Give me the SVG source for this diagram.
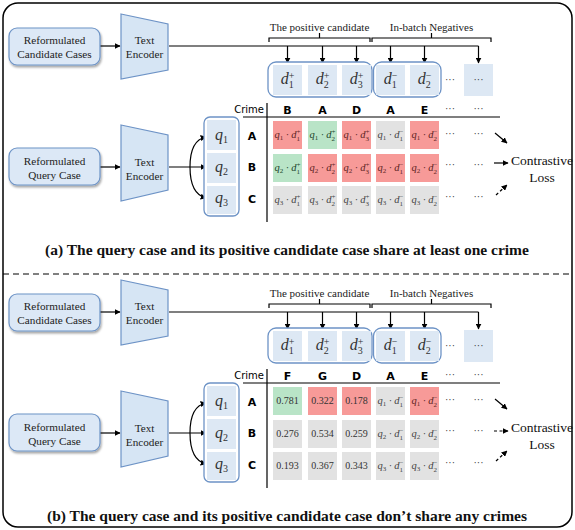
<svg xmlns="http://www.w3.org/2000/svg" width="575" height="530" viewBox="0 0 575 530">
<defs>
<filter id="sh" x="-20%" y="-20%" width="140%" height="150%"><feDropShadow dx="1" dy="2" stdDeviation="1.2" flood-color="#000" flood-opacity="0.35"/></filter>
<marker id="ar" viewBox="0 0 10 10" refX="9" refY="5" markerWidth="5" markerHeight="5" orient="auto-start-reverse"><path d="M0,0 L10,5 L0,10 z" fill="#000"/></marker>
</defs>
<style>
.box{fill:#dce8f6;stroke:#6d93c6;stroke-width:1.2;filter:url(#sh)}
.enc{fill:#d6e5f4;stroke:#6d93c6;stroke-width:1.2}
.grp{fill:#fff;stroke:#6d93c6;stroke-width:1.3}
.cb{fill:#dde8f4}
.r{fill:#f79a98}.g{fill:#b9e4c7}.y{fill:#e2e2e2}
.lbl{font-family:"Liberation Serif",serif;font-size:11.2px;text-anchor:middle;fill:#222}
.br{font-family:"Liberation Serif",serif;font-size:11px;text-anchor:middle;fill:#222}
.m{font-family:"Liberation Serif",serif;font-style:italic;font-size:16px;fill:#333;text-anchor:middle}
.cm{font-family:"Liberation Serif",serif;font-style:italic;font-size:10.5px;text-anchor:middle}
.s{font-style:normal}
.num{font-family:"Liberation Serif",serif;font-size:10px;text-anchor:middle;fill:#333}
.tr{fill:#5c2424}.tg{fill:#21442b}.ty{fill:#444}
.dot{font-family:"Liberation Serif",serif;font-size:10px;text-anchor:middle;fill:#333}
.hd{font-family:"DejaVu Sans",sans-serif;font-size:11px;font-weight:bold;text-anchor:middle;fill:#000}
.cr{font-family:"DejaVu Sans",sans-serif;font-size:10px;text-anchor:end;fill:#000}
.ln{stroke:#000;stroke-width:1.2;fill:none}
.lnd{stroke:#000;stroke-width:1.2;fill:none;stroke-dasharray:3 2.5}
.cl{font-family:"Liberation Serif",serif;font-size:13.5px;text-anchor:middle;fill:#111}
.cap{font-family:"Liberation Serif",serif;font-size:15.5px;font-weight:bold;text-anchor:middle;fill:#111}
</style>
<rect x="3" y="3" width="569" height="524" rx="15" fill="#fff" stroke="#000" stroke-width="1.5"/>
<line x1="3" y1="274" x2="572" y2="274" stroke="#000" stroke-width="1" stroke-dasharray="6 4"/>

<!-- ===== Panel (a) ===== -->
<g id="panel-a">
<g id="connectors-a">
<path class="ln" d="M100,46 H120" marker-end="url(#ar)"/>
<path class="ln" d="M100,167 H120" marker-end="url(#ar)"/>
<path class="ln" d="M169,46 H478.5"/>
<path class="ln" d="M287.5,46 V63" marker-end="url(#ar)"/>
<path class="ln" d="M322.5,46 V63" marker-end="url(#ar)"/>
<path class="ln" d="M356.5,46 V63" marker-end="url(#ar)"/>
<path class="ln" d="M390.5,46 V63" marker-end="url(#ar)"/>
<path class="ln" d="M424.5,46 V63" marker-end="url(#ar)"/>
<path class="ln" d="M478.5,46 V63" marker-end="url(#ar)"/>
<path class="ln" d="M169,167 H206" marker-end="url(#ar)"/>
<path class="ln" d="M206,137 Q190,140 190,167 Q190,194 206,198" marker-start="url(#ar)" marker-end="url(#ar)"/>
<path class="ln" d="M269,42 V38 H370 V42 M319.5,38 V33"/>
<path class="ln" d="M372,42 V38 H491 V42 M431.5,38 V33"/>
<path class="ln" d="M243,117 H500 M267,103 V222"/>
<path class="ln" d="M495,133 L507,143" marker-end="url(#ar)"/>
<path class="ln" d="M494,163 H508" marker-end="url(#ar)"/>
<path class="lnd" d="M496,195 L507,185" marker-end="url(#ar)"/>
</g>
<g id="cand-box-a"><rect class="box" x="9" y="28" width="91" height="37" rx="8"/><text class="lbl" x="54.5" y="44">Reformulated</text><text class="lbl" x="54.5" y="58">Candidate Cases</text></g>
<g id="enc1-a"><path class="enc" d="M121,14 L168,24 L168,70 L121,79 Z"/><text class="lbl" x="144.5" y="44">Text</text><text class="lbl" x="144.5" y="58">Encoder</text></g>
<g id="query-box-a"><rect class="box" x="9" y="148" width="91" height="37" rx="8"/><text class="lbl" x="54.5" y="165">Reformulated</text><text class="lbl" x="54.5" y="179">Query Case</text></g>
<g id="enc2-a"><path class="enc" d="M121,125 L168,135 L168,190 L121,201 Z"/><text class="lbl" x="144.5" y="166">Text</text><text class="lbl" x="144.5" y="180">Encoder</text></g>
<g id="brace-labels-a"><text class="br" x="319.5" y="31">The positive candidate</text><text class="br" x="431.5" y="31">In-batch Negatives</text></g>
<g id="cands-a">
<rect class="grp" x="268" y="62" width="104" height="35" rx="8"/>
<rect class="grp" x="373.5" y="62" width="67.5" height="35" rx="8"/>
<rect class="cb" x="273" y="65" width="29" height="30"/><rect class="cb" x="308" y="65" width="29" height="30"/><rect class="cb" x="342" y="65" width="29" height="30"/>
<rect class="cb" x="376" y="65" width="29" height="30"/><rect class="cb" x="410" y="65" width="29" height="30"/><rect class="cb" x="464" y="64" width="29" height="32"/>
<text class="m" x="287.5" y="84">d<tspan class="s" font-size="10" dy="-5.5">+</tspan><tspan class="s" font-size="10" dx="-5.6" dy="9">1</tspan></text>
<text class="m" x="322.5" y="84">d<tspan class="s" font-size="10" dy="-5.5">+</tspan><tspan class="s" font-size="10" dx="-5.6" dy="9">2</tspan></text>
<text class="m" x="356.5" y="84">d<tspan class="s" font-size="10" dy="-5.5">+</tspan><tspan class="s" font-size="10" dx="-5.6" dy="9">3</tspan></text>
<text class="m" x="390.5" y="84">d<tspan class="s" font-size="10" dy="-5.5">−</tspan><tspan class="s" font-size="10" dx="-5.6" dy="9">1</tspan></text>
<text class="m" x="424.5" y="84">d<tspan class="s" font-size="10" dy="-5.5">−</tspan><tspan class="s" font-size="10" dx="-5.6" dy="9">2</tspan></text>
<text class="dot" x="450" y="83">···</text><text class="dot" x="478.5" y="83">···</text>
</g>
<g id="queries-a">
<rect class="grp" x="204" y="117" width="35" height="99" rx="6"/>
<rect class="cb" x="207" y="120" width="29" height="30"/><rect class="cb" x="207" y="153" width="29" height="30"/><rect class="cb" x="207" y="186" width="29" height="28"/>
<text class="m" x="221.5" y="140">q<tspan class="s" font-size="10" dy="2.5">1</tspan></text>
<text class="m" x="221.5" y="172">q<tspan class="s" font-size="10" dy="2.5">2</tspan></text>
<text class="m" x="221.5" y="203">q<tspan class="s" font-size="10" dy="2.5">3</tspan></text>
</g>
<g id="table-a">
<text class="cr" x="264" y="113">Crime</text>
<text class="hd" x="287.5" y="114">B</text><text class="hd" x="322.5" y="114">A</text><text class="hd" x="356.5" y="114">D</text><text class="hd" x="390.5" y="114">A</text><text class="hd" x="424.5" y="114">E</text>
<text class="dot" x="450" y="112">···</text><text class="dot" x="478.5" y="112">···</text>
<text class="hd" x="252" y="140">A</text><text class="hd" x="252" y="171">B</text><text class="hd" x="252" y="203">C</text>
<rect class="r" x="273" y="121" width="29" height="28"/><rect class="g" x="308" y="121" width="29" height="28"/><rect class="r" x="342" y="121" width="29" height="28"/><rect class="y" x="376" y="121" width="29" height="28"/><rect class="r" x="410" y="121" width="29" height="28"/>
<rect class="g" x="273" y="154" width="29" height="28"/><rect class="r" x="308" y="154" width="29" height="28"/><rect class="r" x="342" y="154" width="29" height="28"/><rect class="r" x="376" y="154" width="29" height="28"/><rect class="r" x="410" y="154" width="29" height="28"/>
<rect class="y" x="273" y="186" width="29" height="28"/><rect class="y" x="308" y="186" width="29" height="28"/><rect class="y" x="342" y="186" width="29" height="28"/><rect class="y" x="376" y="186" width="29" height="28"/><rect class="y" x="410" y="186" width="29" height="28"/>
<text class="cm tr" x="287.5" y="138">q<tspan class="s" font-size="7" dy="2">1</tspan><tspan dy="-2"> · d</tspan><tspan class="s" font-size="7" dy="-4">+</tspan><tspan class="s" font-size="7" dx="-3.9" dy="6.5">1</tspan></text>
<text class="cm tg" x="322.5" y="138">q<tspan class="s" font-size="7" dy="2">1</tspan><tspan dy="-2"> · d</tspan><tspan class="s" font-size="7" dy="-4">+</tspan><tspan class="s" font-size="7" dx="-3.9" dy="6.5">2</tspan></text>
<text class="cm tr" x="356.5" y="138">q<tspan class="s" font-size="7" dy="2">1</tspan><tspan dy="-2"> · d</tspan><tspan class="s" font-size="7" dy="-4">+</tspan><tspan class="s" font-size="7" dx="-3.9" dy="6.5">3</tspan></text>
<text class="cm ty" x="390.5" y="138">q<tspan class="s" font-size="7" dy="2">1</tspan><tspan dy="-2"> · d</tspan><tspan class="s" font-size="7" dy="-4">−</tspan><tspan class="s" font-size="7" dx="-3.9" dy="6.5">1</tspan></text>
<text class="cm tr" x="424.5" y="138">q<tspan class="s" font-size="7" dy="2">1</tspan><tspan dy="-2"> · d</tspan><tspan class="s" font-size="7" dy="-4">−</tspan><tspan class="s" font-size="7" dx="-3.9" dy="6.5">2</tspan></text>
<text class="cm tg" x="287.5" y="171">q<tspan class="s" font-size="7" dy="2">2</tspan><tspan dy="-2"> · d</tspan><tspan class="s" font-size="7" dy="-4">+</tspan><tspan class="s" font-size="7" dx="-3.9" dy="6.5">1</tspan></text>
<text class="cm tr" x="322.5" y="171">q<tspan class="s" font-size="7" dy="2">2</tspan><tspan dy="-2"> · d</tspan><tspan class="s" font-size="7" dy="-4">+</tspan><tspan class="s" font-size="7" dx="-3.9" dy="6.5">2</tspan></text>
<text class="cm tr" x="356.5" y="171">q<tspan class="s" font-size="7" dy="2">2</tspan><tspan dy="-2"> · d</tspan><tspan class="s" font-size="7" dy="-4">+</tspan><tspan class="s" font-size="7" dx="-3.9" dy="6.5">3</tspan></text>
<text class="cm tr" x="390.5" y="171">q<tspan class="s" font-size="7" dy="2">2</tspan><tspan dy="-2"> · d</tspan><tspan class="s" font-size="7" dy="-4">−</tspan><tspan class="s" font-size="7" dx="-3.9" dy="6.5">1</tspan></text>
<text class="cm tr" x="424.5" y="171">q<tspan class="s" font-size="7" dy="2">2</tspan><tspan dy="-2"> · d</tspan><tspan class="s" font-size="7" dy="-4">−</tspan><tspan class="s" font-size="7" dx="-3.9" dy="6.5">2</tspan></text>
<text class="cm ty" x="287.5" y="203">q<tspan class="s" font-size="7" dy="2">3</tspan><tspan dy="-2"> · d</tspan><tspan class="s" font-size="7" dy="-4">+</tspan><tspan class="s" font-size="7" dx="-3.9" dy="6.5">1</tspan></text>
<text class="cm ty" x="322.5" y="203">q<tspan class="s" font-size="7" dy="2">3</tspan><tspan dy="-2"> · d</tspan><tspan class="s" font-size="7" dy="-4">+</tspan><tspan class="s" font-size="7" dx="-3.9" dy="6.5">2</tspan></text>
<text class="cm ty" x="356.5" y="203">q<tspan class="s" font-size="7" dy="2">3</tspan><tspan dy="-2"> · d</tspan><tspan class="s" font-size="7" dy="-4">+</tspan><tspan class="s" font-size="7" dx="-3.9" dy="6.5">3</tspan></text>
<text class="cm ty" x="390.5" y="203">q<tspan class="s" font-size="7" dy="2">3</tspan><tspan dy="-2"> · d</tspan><tspan class="s" font-size="7" dy="-4">−</tspan><tspan class="s" font-size="7" dx="-3.9" dy="6.5">1</tspan></text>
<text class="cm ty" x="424.5" y="203">q<tspan class="s" font-size="7" dy="2">3</tspan><tspan dy="-2"> · d</tspan><tspan class="s" font-size="7" dy="-4">−</tspan><tspan class="s" font-size="7" dx="-3.9" dy="6.5">2</tspan></text>
<text class="dot" x="450" y="137">···</text><text class="dot" x="478.5" y="137">···</text>
<text class="dot" x="450" y="168">···</text><text class="dot" x="478.5" y="168">···</text>
<text class="dot" x="450" y="200">···</text><text class="dot" x="478.5" y="200">···</text>
</g>
<g id="loss-a"><text class="cl" x="542" y="165">Contrastive</text><text class="cl" x="542" y="182">Loss</text></g>
<text class="cap" x="287" y="255">(a) The query case and its positive candidate case share at least one crime</text>
</g>

<!-- ===== Panel (b) ===== -->
<g id="panel-b" transform="translate(0,266)">
<g id="connectors-b">
<path class="ln" d="M100,46 H120" marker-end="url(#ar)"/>
<path class="ln" d="M100,167 H120" marker-end="url(#ar)"/>
<path class="ln" d="M169,46 H478.5"/>
<path class="ln" d="M287.5,46 V63" marker-end="url(#ar)"/>
<path class="ln" d="M322.5,46 V63" marker-end="url(#ar)"/>
<path class="ln" d="M356.5,46 V63" marker-end="url(#ar)"/>
<path class="ln" d="M390.5,46 V63" marker-end="url(#ar)"/>
<path class="ln" d="M424.5,46 V63" marker-end="url(#ar)"/>
<path class="ln" d="M478.5,46 V63" marker-end="url(#ar)"/>
<path class="ln" d="M169,167 H206" marker-end="url(#ar)"/>
<path class="ln" d="M206,137 Q190,140 190,167 Q190,194 206,198" marker-start="url(#ar)" marker-end="url(#ar)"/>
<path class="ln" d="M269,42 V38 H370 V42 M319.5,38 V33"/>
<path class="ln" d="M372,42 V38 H491 V42 M431.5,38 V33"/>
<path class="ln" d="M243,117 H500 M267,103 V222"/>
<path class="ln" d="M495,133 L507,143" marker-end="url(#ar)"/>
<path class="lnd" d="M494,165 H508" marker-end="url(#ar)"/>
<path class="lnd" d="M496,195 L507,185" marker-end="url(#ar)"/>
</g>
<g id="cand-box-b"><rect class="box" x="9" y="28" width="91" height="37" rx="8"/><text class="lbl" x="54.5" y="44">Reformulated</text><text class="lbl" x="54.5" y="58">Candidate Cases</text></g>
<g id="enc1-b"><path class="enc" d="M121,14 L168,24 L168,70 L121,79 Z"/><text class="lbl" x="144.5" y="44">Text</text><text class="lbl" x="144.5" y="58">Encoder</text></g>
<g id="query-box-b"><rect class="box" x="9" y="148" width="91" height="37" rx="8"/><text class="lbl" x="54.5" y="165">Reformulated</text><text class="lbl" x="54.5" y="179">Query Case</text></g>
<g id="enc2-b"><path class="enc" d="M121,125 L168,135 L168,190 L121,201 Z"/><text class="lbl" x="144.5" y="166">Text</text><text class="lbl" x="144.5" y="180">Encoder</text></g>
<g id="brace-labels-b"><text class="br" x="319.5" y="31">The positive candidate</text><text class="br" x="431.5" y="31">In-batch Negatives</text></g>
<g id="cands-b">
<rect class="grp" x="268" y="62" width="104" height="35" rx="8"/>
<rect class="grp" x="373.5" y="62" width="67.5" height="35" rx="8"/>
<rect class="cb" x="273" y="65" width="29" height="30"/><rect class="cb" x="308" y="65" width="29" height="30"/><rect class="cb" x="342" y="65" width="29" height="30"/>
<rect class="cb" x="376" y="65" width="29" height="30"/><rect class="cb" x="410" y="65" width="29" height="30"/><rect class="cb" x="464" y="64" width="29" height="32"/>
<text class="m" x="287.5" y="84">d<tspan class="s" font-size="10" dy="-5.5">+</tspan><tspan class="s" font-size="10" dx="-5.6" dy="9">1</tspan></text>
<text class="m" x="322.5" y="84">d<tspan class="s" font-size="10" dy="-5.5">+</tspan><tspan class="s" font-size="10" dx="-5.6" dy="9">2</tspan></text>
<text class="m" x="356.5" y="84">d<tspan class="s" font-size="10" dy="-5.5">+</tspan><tspan class="s" font-size="10" dx="-5.6" dy="9">3</tspan></text>
<text class="m" x="390.5" y="84">d<tspan class="s" font-size="10" dy="-5.5">−</tspan><tspan class="s" font-size="10" dx="-5.6" dy="9">1</tspan></text>
<text class="m" x="424.5" y="84">d<tspan class="s" font-size="10" dy="-5.5">−</tspan><tspan class="s" font-size="10" dx="-5.6" dy="9">2</tspan></text>
<text class="dot" x="450" y="83">···</text><text class="dot" x="478.5" y="83">···</text>
</g>
<g id="queries-b">
<rect class="grp" x="204" y="117" width="35" height="99" rx="6"/>
<rect class="cb" x="207" y="120" width="29" height="30"/><rect class="cb" x="207" y="153" width="29" height="30"/><rect class="cb" x="207" y="186" width="29" height="28"/>
<text class="m" x="221.5" y="140">q<tspan class="s" font-size="10" dy="2.5">1</tspan></text>
<text class="m" x="221.5" y="172">q<tspan class="s" font-size="10" dy="2.5">2</tspan></text>
<text class="m" x="221.5" y="203">q<tspan class="s" font-size="10" dy="2.5">3</tspan></text>
</g>
<g id="table-b">
<text class="cr" x="264" y="113">Crime</text>
<text class="hd" x="287.5" y="114">F</text><text class="hd" x="322.5" y="114">G</text><text class="hd" x="356.5" y="114">D</text><text class="hd" x="390.5" y="114">A</text><text class="hd" x="424.5" y="114">E</text>
<text class="dot" x="450" y="112">···</text><text class="dot" x="478.5" y="112">···</text>
<text class="hd" x="252" y="140">A</text><text class="hd" x="252" y="171">B</text><text class="hd" x="252" y="203">C</text>
<rect class="g" x="273" y="121" width="29" height="28"/><rect class="r" x="308" y="121" width="29" height="28"/><rect class="r" x="342" y="121" width="29" height="28"/><rect class="y" x="376" y="121" width="29" height="28"/><rect class="r" x="410" y="121" width="29" height="28"/>
<rect class="y" x="273" y="154" width="29" height="28"/><rect class="y" x="308" y="154" width="29" height="28"/><rect class="y" x="342" y="154" width="29" height="28"/><rect class="y" x="376" y="154" width="29" height="28"/><rect class="y" x="410" y="154" width="29" height="28"/>
<rect class="y" x="273" y="186" width="29" height="28"/><rect class="y" x="308" y="186" width="29" height="28"/><rect class="y" x="342" y="186" width="29" height="28"/><rect class="y" x="376" y="186" width="29" height="28"/><rect class="y" x="410" y="186" width="29" height="28"/>
<text class="num" x="287.5" y="138">0.781</text><text class="num" x="322.5" y="138">0.322</text><text class="num" x="356.5" y="138">0.178</text>
<text class="num" x="287.5" y="171">0.276</text><text class="num" x="322.5" y="171">0.534</text><text class="num" x="356.5" y="171">0.259</text>
<text class="num" x="287.5" y="203">0.193</text><text class="num" x="322.5" y="203">0.367</text><text class="num" x="356.5" y="203">0.343</text>
<text class="cm ty" x="390.5" y="138">q<tspan class="s" font-size="7" dy="2">1</tspan><tspan dy="-2"> · d</tspan><tspan class="s" font-size="7" dy="-4">−</tspan><tspan class="s" font-size="7" dx="-3.9" dy="6.5">1</tspan></text>
<text class="cm tr" x="424.5" y="138">q<tspan class="s" font-size="7" dy="2">1</tspan><tspan dy="-2"> · d</tspan><tspan class="s" font-size="7" dy="-4">−</tspan><tspan class="s" font-size="7" dx="-3.9" dy="6.5">2</tspan></text>
<text class="cm ty" x="390.5" y="171">q<tspan class="s" font-size="7" dy="2">2</tspan><tspan dy="-2"> · d</tspan><tspan class="s" font-size="7" dy="-4">−</tspan><tspan class="s" font-size="7" dx="-3.9" dy="6.5">1</tspan></text>
<text class="cm ty" x="424.5" y="171">q<tspan class="s" font-size="7" dy="2">2</tspan><tspan dy="-2"> · d</tspan><tspan class="s" font-size="7" dy="-4">−</tspan><tspan class="s" font-size="7" dx="-3.9" dy="6.5">2</tspan></text>
<text class="cm ty" x="390.5" y="203">q<tspan class="s" font-size="7" dy="2">3</tspan><tspan dy="-2"> · d</tspan><tspan class="s" font-size="7" dy="-4">−</tspan><tspan class="s" font-size="7" dx="-3.9" dy="6.5">1</tspan></text>
<text class="cm ty" x="424.5" y="203">q<tspan class="s" font-size="7" dy="2">3</tspan><tspan dy="-2"> · d</tspan><tspan class="s" font-size="7" dy="-4">−</tspan><tspan class="s" font-size="7" dx="-3.9" dy="6.5">2</tspan></text>
<text class="dot" x="450" y="137">···</text><text class="dot" x="478.5" y="137">···</text>
<text class="dot" x="450" y="168">···</text><text class="dot" x="478.5" y="168">···</text>
<text class="dot" x="450" y="200">···</text><text class="dot" x="478.5" y="200">···</text>
</g>
<g id="loss-b"><text class="cl" x="542" y="166">Contrastive</text><text class="cl" x="542" y="183">Loss</text></g>
<text class="cap" x="287" y="255">(b) The query case and its positive candidate case don’t share any crimes</text>
</g>
</svg>
